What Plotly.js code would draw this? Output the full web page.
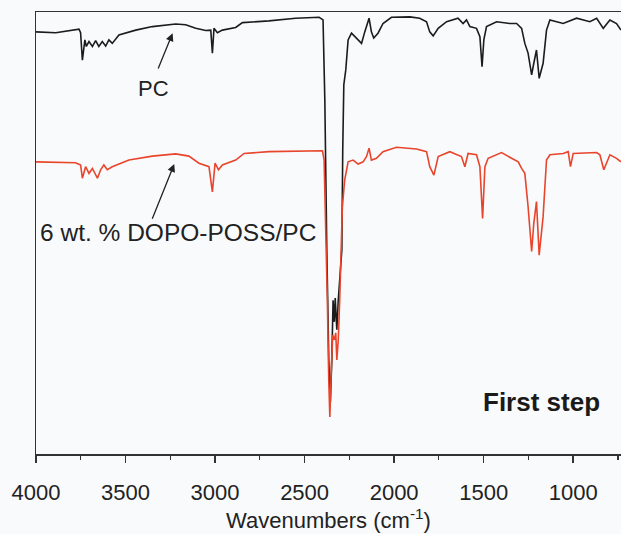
<!DOCTYPE html>
<html>
<head>
<meta charset="utf-8">
<script src="https://cdn.plot.ly/plotly-3.0.1.min.js"></script>
<style>
  html, body { margin: 0; padding: 0; background: #f9fafc; }
  #chart { width: 621px; height: 534px; }
</style>
</head>
<body>
<div id="chart"></div>
<script>
// Wavenumbers (cm^-1) and transmittance (a.u.)
const pcWavenumber = [4000, 3890, 3760, 3751, 3741, 3727, 3719, 3704, 3685, 3667, 3649, 3630, 3611, 3593, 3574, 3537,
  3443, 3350, 3220, 3164, 3108, 3052, 3024, 3015, 3006, 2987, 2959, 2885, 2847, 2699, 2550, 2419, 2397,
  2387, 2376, 2365, 2356, 2348, 2341, 2334, 2329, 2320, 2312, 2304, 2292, 2287, 2281, 2270, 2257,
  2238, 2210, 2182, 2164, 2140, 2127, 2114, 2090, 2062, 2015, 1912, 1857, 1819, 1801, 1782, 1754,
  1707, 1643, 1615, 1596, 1577, 1540, 1521, 1509, 1499, 1484, 1428, 1354, 1316, 1288, 1270, 1252,
  1232, 1220, 1205, 1190, 1168, 1149, 1130, 1056, 981, 907, 869, 832, 795, 758, 733];
const pcTransmittance = [95.5, 95.3, 96.1, 95.3, 89.1, 93.7, 92.2, 93.3, 92.2, 93.5, 92.2, 93.3, 92.3, 93.7, 92.9, 94.8,
  95.9, 96.7, 97.3, 97.1, 96.3, 95.8, 95.9, 90.7, 96.3, 95.3, 95.9, 96.5, 97.6, 98.0, 98.6, 98.8, 98.2,
  80.1, 46.2, 21.3, 11.8, 21.3, 34.8, 29.9, 35.3, 28.1, 34.8, 38.7, 46.2, 68.8, 83.5, 86.9, 93.7,
  95.2, 94.1, 92.9, 95.5, 98.6, 95.5, 94.1, 95.2, 97.4, 98.8, 98.9, 98.6, 97.8, 95.5, 94.6, 96.3,
  97.8, 98.6, 97.4, 98.2, 96.7, 96.3, 94.4, 87.6, 93.7, 96.7, 97.8, 97.4, 97.4, 96.3, 92.9, 90.7,
  85.8, 88.4, 91.4, 85.0, 88.4, 95.9, 98.2, 97.4, 98.6, 97.8, 98.6, 96.3, 98.2, 97.4, 95.9];

const dopoWavenumber = [4000, 3779, 3751, 3741, 3723, 3704, 3685, 3657, 3639, 3621, 3602, 3574, 3481, 3350, 3220, 3146,
  3090, 3034, 3015, 3000, 2981, 2959, 2885, 2838, 2699, 2512, 2400,
  2391, 2382, 2373, 2365, 2359, 2351, 2343, 2334, 2326, 2320, 2312, 2304, 2295, 2289, 2276, 2257,
  2229, 2201, 2173, 2154, 2140, 2127, 2099, 2062, 1987, 1875, 1819, 1801, 1778, 1754, 1689, 1624,
  1605, 1587, 1540, 1521, 1506, 1493, 1475, 1400, 1344, 1307, 1288, 1270, 1252, 1232, 1220, 1205,
  1190, 1168, 1149, 1130, 1056, 1028, 1015, 1000, 869, 851, 829, 795, 758, 733];
const dopoTransmittance = [66.1, 65.9, 65.4, 62.4, 65.0, 63.5, 64.6, 62.4, 64.3, 65.4, 64.3, 65.0, 66.5, 67.4, 67.9, 67.4,
  65.8, 65.0, 59.3, 65.8, 64.3, 65.4, 66.5, 68.0, 68.4, 68.6, 68.6,
  66.5, 52.9, 34.8, 16.7, 8.4, 19.0, 26.9, 25.8, 27.4, 21.3, 25.8, 34.8, 46.2, 56.0, 62.0, 66.1,
  66.5, 65.6, 66.1, 67.3, 69.2, 66.5, 66.9, 68.4, 69.4, 69.0, 68.4, 65.0, 63.1, 67.3, 68.4, 67.3,
  65.0, 68.0, 67.7, 65.0, 53.3, 65.0, 66.9, 68.2, 66.9, 66.1, 64.6, 63.5, 56.0, 45.8, 52.2, 57.1,
  45.0, 53.7, 66.5, 67.7, 68.0, 68.4, 65.0, 68.0, 68.2, 67.7, 64.3, 67.7, 66.9, 66.1];

const labelPC = "PC";
const labelDOPO = "6 wt. % DOPO-POSS/PC";
const stepLabel = "First step";
const xTitle = "Wavenumbers (cm<sup>-1</sup>)";
const xTickVals = [4000, 3500, 3000, 2500, 2000, 1500, 1000];

const font = "Liberation Sans, Arial, Helvetica, sans-serif";

const traces = [
  { x: pcWavenumber, y: pcTransmittance, type: "scatter", mode: "lines", name: labelPC,
    line: { color: "#1c1c1c", width: 1.6 } },
  { x: dopoWavenumber, y: dopoTransmittance, type: "scatter", mode: "lines", name: labelDOPO,
    line: { color: "#e8452c", width: 1.6 } }
];

const layout = {
  width: 621, height: 534,
  margin: { l: 36, r: 0, t: 12, b: 80 },
  paper_bgcolor: "#f9fafc", plot_bgcolor: "#f9fafc",
  showlegend: false,
  font: { family: font, size: 22, color: "#222" },
  xaxis: {
    range: [4000, 733], autorange: false,
    tickvals: xTickVals, ticktext: xTickVals.map(String),
    ticks: "outside", ticklen: 7, tickwidth: 1.5, tickcolor: "#333",
    ticklabelstandoff: 11,
    minor: { dtick: 250, tick0: 0, ticks: "outside", ticklen: 4, tickwidth: 1.2, tickcolor: "#333", showgrid: false },
    showline: true, linecolor: "#333", linewidth: 1.5, mirror: true,
    showgrid: false, zeroline: false,
    tickfont: { family: font, size: 22, color: "#222" },
    title: { text: xTitle, font: { family: font, size: 22, color: "#222" }, standoff: 6 }
  },
  yaxis: {
    range: [0, 100], autorange: false,
    showline: true, linecolor: "#333", linewidth: 1.5,
    ticks: "", showticklabels: false, showgrid: false, zeroline: false
  },
  annotations: [
    { x: 3343, y: 82.6, xref: "x", yref: "y", text: labelPC, showarrow: false,
      font: { family: font, size: 22, color: "#222" } },
    { x: 3237, y: 95.2, xref: "x", yref: "y", ax: 3321, ay: 86.9, axref: "x", ayref: "y",
      text: "", showarrow: true, arrowhead: 2, arrowsize: 1.2, arrowwidth: 1.3, arrowcolor: "#222" },
    { x: 3206, y: 50.2, xref: "x", yref: "y", text: labelDOPO, showarrow: false,
      font: { family: font, size: 24.5, color: "#222" } },
    { x: 3228, y: 65.6, xref: "x", yref: "y", ax: 3354, ay: 52.9, axref: "x", ayref: "y",
      text: "", showarrow: true, arrowhead: 2, arrowsize: 1.2, arrowwidth: 1.3, arrowcolor: "#222" },
    { x: 1178, y: 11.8, xref: "x", yref: "y", text: "<b>" + stepLabel + "</b>", showarrow: false,
      font: { family: font, size: 26, color: "#1a1a1a" } }
  ]
};

Plotly.newPlot("chart", traces, layout, { displayModeBar: false, staticPlot: true });
</script>
</body>
</html>
